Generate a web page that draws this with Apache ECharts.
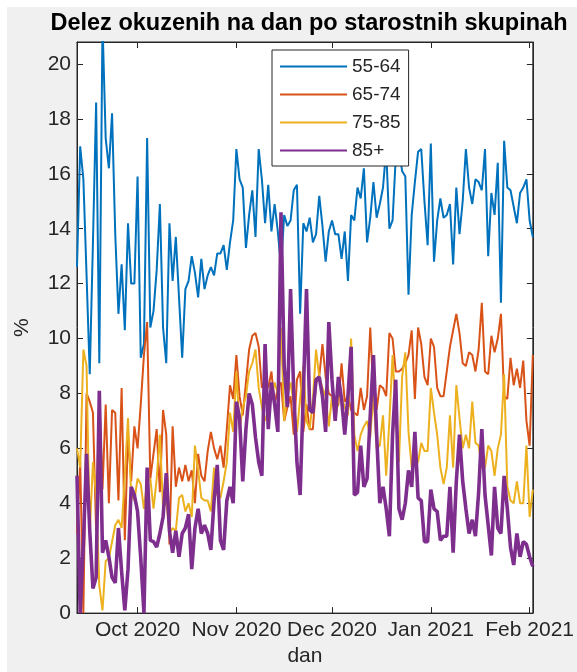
<!DOCTYPE html>
<html>
<head>
<meta charset="utf-8">
<script src="https://cdn.jsdelivr.net/npm/echarts@6/dist/echarts.min.js"></script>
<style>
html,body{margin:0;padding:0;background:#fff;}
#chart{width:577px;height:672px;}
</style>
</head>
<body>
<div id="chart"></div>
<script>
// ---- data ----
const chartTitle = 'Delez okuzenih na dan po starostnih skupinah';
const seriesNames = ['55-64', '65-74', '75-85', '85+'];
const firstDay = [2020, 8, 12]; // 12 Sep 2020, one value per day

const s5564 = [
  12.6, 17.0, 15.8, 12.3, 8.7, 13.5, 18.6, 9.1, 21.5, 17.3,
  16.2, 18.2, 13.8, 10.9, 12.7, 10.3, 14.2, 12.0, 12.0, 15.9,
  9.3, 9.8, 17.3, 10.4, 11.0, 12.5, 14.9, 10.4, 9.1, 14.2,
  12.1, 13.7, 11.5, 9.3, 11.8, 12.1, 13.0, 12.4, 11.5, 12.9,
  11.8, 12.3, 12.6, 12.3, 13.1, 13.1, 13.4, 12.5, 13.5, 14.3,
  16.9, 15.8, 15.5, 13.3, 14.5, 15.4, 13.7, 16.9, 15.8, 14.2,
  15.6, 13.9, 14.9, 13.9, 12.6, 14.5, 14.1, 14.3, 15.4, 15.6,
  10.9, 14.2, 13.9, 14.4, 13.5, 13.8, 15.2, 14.1, 12.8, 13.9,
  14.3, 13.8, 13.8, 12.9, 13.9, 12.1, 14.5, 14.3, 15.5, 15.1,
  16.2, 13.5, 14.4, 15.7, 14.4, 14.9, 15.5, 16.9, 14.0, 14.3,
  16.6, 16.9, 16.1, 15.9, 11.6, 14.5, 15.7, 16.8, 16.9, 15.0,
  13.4, 17.1, 12.8, 14.3, 15.1, 14.4, 14.5, 14.9, 12.7, 15.5,
  13.8, 15.0, 16.9, 15.5, 14.9, 15.8, 15.7, 15.4, 16.9, 13.0,
  15.3, 14.5, 16.4, 11.3, 17.2, 15.5, 15.4, 14.8, 14.2, 15.3,
  15.5, 15.8, 14.3, 13.7
];
const s6574 = [
  2.9, 5.5, 0.0, 8.0, 7.7, 7.3, 3.0, 7.9, 4.5, 7.6,
  4.0, 7.4, 7.3, 4.1, 8.2, 2.65, 6.5, 4.8, 6.8, 6.0,
  7.6, 9.4, 10.6, 4.9, 5.8, 6.7, 4.4, 7.4, 6.5, 2.5,
  6.8, 4.6, 5.3, 4.8, 5.4, 4.8, 5.2, 4.0, 5.8, 5.0,
  4.8, 5.9, 6.6, 6.0, 5.6, 6.1, 5.3, 6.7, 8.3, 7.8,
  9.4, 7.9, 7.2, 8.4, 9.6, 10.1, 10.2, 9.7, 8.2, 8.5,
  8.2, 8.8, 7.6, 8.2, 8.4, 7.0, 7.5, 7.9, 6.5, 8.5,
  8.8, 6.6, 7.6, 6.7, 6.7, 8.4, 8.6, 9.8, 8.6, 8.0,
  7.9, 7.4, 7.6, 9.1, 7.7, 7.9, 7.4, 7.3, 7.2, 8.2,
  7.4, 7.9, 10.4, 7.9, 7.4, 8.3, 8.2, 7.9, 10.2, 10.0,
  8.8, 8.8, 8.9, 9.1, 9.4, 10.3, 7.8, 10.4, 9.8, 8.6,
  8.3, 10.0, 9.7, 8.2, 7.9, 7.9, 8.8, 9.7, 10.3, 10.9,
  10.2, 9.1, 9.0, 9.5, 9.4, 8.8, 9.6, 11.3, 8.8, 8.7,
  10.1, 9.5, 10.0, 10.9, 7.9, 7.8, 9.3, 8.3, 8.9, 8.2,
  9.2, 7.0, 6.1, 9.4
];
const s7585 = [
  6.0, 5.3, 9.6, 9.0, 2.9, 5.5, 4.3, 1.0, 0.1, 1.9,
  2.0, 2.6, 3.2, 3.4, 3.1, 5.0, 7.1, 4.3, 4.1, 4.9,
  4.7, 3.8, 4.8, 4.9, 3.8, 4.9, 6.5, 3.8, 4.1, 2.9,
  3.1, 3.0, 4.2, 4.3, 3.7, 4.0, 3.5, 6.1, 5.2, 4.2,
  4.1, 4.1, 3.7, 5.3, 4.3, 4.2, 4.8, 5.5, 7.3, 6.6,
  8.8, 6.7, 7.5, 7.9, 8.8, 9.1, 9.6, 8.2, 7.5, 7.0,
  7.4, 7.9, 8.4, 8.0, 10.4, 7.0, 7.9, 8.4, 7.6, 6.6,
  7.8, 9.0, 7.0, 6.7, 7.8, 9.6, 8.6, 8.2, 7.9, 6.8,
  7.9, 7.0, 7.8, 7.9, 7.5, 7.2, 10.0, 6.5, 5.9, 6.5,
  6.8, 7.0, 6.4, 8.0, 6.0, 6.1, 7.2, 5.0, 7.0, 9.4,
  7.2, 5.5, 8.6, 9.5, 6.6, 5.3, 5.4, 5.5, 6.2, 5.9,
  5.9, 8.2, 7.3, 6.5, 5.3, 4.7, 5.3, 7.2, 5.3, 8.3,
  7.1, 6.0, 6.5, 6.0, 7.7, 6.2, 6.1, 5.3, 5.3, 6.1,
  5.9, 5.0, 6.0, 6.5, 8.7, 4.6, 4.1, 4.0, 4.8, 4.0,
  4.0, 6.1, 3.5, 4.5
];
const s85plus = [
  5.0, 0.0, 2.5, 5.8, 3.0, 0.9, 1.3, 8.1, 2.2, 2.65,
  2.05, 1.3, 1.1, 3.1, 1.5, 0.1, 1.6, 4.6, 4.3, 3.7,
  2.0, 0.0, 5.3, 2.65, 2.6, 2.4, 2.9, 3.5, 5.1, 3.0,
  2.2, 3.0, 2.05, 2.9, 3.1, 3.6, 1.6, 3.1, 3.8, 2.9,
  3.2, 2.9, 2.3, 4.1, 5.4, 2.65, 2.3, 4.1, 4.6, 4.0,
  7.7, 7.1, 4.8, 6.7, 8.0, 7.6, 6.4, 5.5, 5.0, 9.8,
  6.7, 8.4, 7.6, 6.6, 14.6, 9.0, 7.5, 11.8, 8.0, 5.5,
  4.3, 8.0, 11.8, 7.4, 7.3, 8.5, 8.6, 7.9, 6.6, 10.6,
  8.5, 7.0, 8.6, 7.8, 6.5, 7.9, 9.7, 4.3, 4.4, 6.1,
  4.6, 4.9, 7.2, 9.4, 6.5, 4.0, 4.6, 3.8, 2.8, 6.5,
  8.5, 3.8, 3.4, 4.0, 5.2, 4.6, 6.6, 4.2, 4.1, 2.6,
  2.6, 4.5, 3.8, 3.7, 2.65, 2.8, 2.8, 4.6, 2.2, 4.8,
  6.5, 4.8, 3.8, 2.9, 3.4, 2.8, 4.4, 6.7, 4.3, 3.2,
  2.1, 4.6, 3.1, 2.9, 5.0, 3.8, 2.4, 1.75, 2.9, 2.05,
  2.6, 2.5, 2.05, 1.7
];

const xTickDates = [[2020, 9, 1], [2020, 10, 1], [2020, 11, 1], [2021, 0, 1], [2021, 1, 1]];
const xTickLabels = ['Oct 2020', 'Nov 2020', 'Dec 2020', 'Jan 2021', 'Feb 2021'];
const yTicks = [0, 2, 4, 6, 8, 10, 12, 14, 16, 18, 20];
const yMax = 20.8;

// ---- build ----
const seriesValues = [s5564, s6574, s7585, s85plus];
const seriesColors = ['#0072BD', '#D95319', '#EDB120', '#7E2F8E'];
const seriesWidths = [2, 2, 2, 3.6];

const DAY = 86400000;
const t0 = Date.UTC(firstDay[0], firstDay[1], firstDay[2]);
// x position = days since first day
const dayIndex = s5564.map((_, i) => i);
const xTickPos = xTickDates.map(d => Math.round((Date.UTC(d[0], d[1], d[2]) - t0) / DAY));
const xMin = 0;
const xMax = dayIndex[dayIndex.length - 1];

const font = '"Liberation Sans", Arial, Helvetica, sans-serif';
const axisColor = '#262626';

function xLabel(v) {
  const i = xTickPos.indexOf(Math.round(v));
  return i >= 0 ? xTickLabels[i] : '';
}

const chart = echarts.init(document.getElementById('chart'), null, {renderer: 'canvas'});

const baseX = {
  type: 'value', min: xMin, max: xMax,
  axisLine: {show: true, onZero: false, lineStyle: {color: axisColor, width: 1}},
  axisTick: {show: true, inside: true, length: 6, customValues: xTickPos, lineStyle: {color: axisColor}},
  splitLine: {show: false}
};
const baseY = {
  type: 'value', min: 0, max: yMax,
  axisLine: {show: true, onZero: false, lineStyle: {color: axisColor, width: 1}},
  axisTick: {show: true, inside: true, length: 6, customValues: yTicks, lineStyle: {color: axisColor}},
  splitLine: {show: false}
};

const option = {
  animation: false,
  backgroundColor: '#f0f0f0',
  graphic: [
    {type: 'rect', left: 0, top: 0, shape: {width: 7, height: 672}, style: {fill: '#ffffff'}, silent: true, z: -10},
    {type: 'rect', left: 0, top: 0, shape: {width: 577, height: 7}, style: {fill: '#ffffff'}, silent: true, z: -10}
  ],
  title: {
    text: chartTitle, left: 309, top: 12, textAlign: 'center', padding: 0,
    textStyle: {fontFamily: font, fontSize: 23.5, fontWeight: 'bold', color: '#000'}
  },
  grid: {
    left: 77, right: 38, top: 42, bottom: 52,
    show: true, backgroundColor: '#ffffff', borderColor: axisColor, borderWidth: 1
  },
  legend: {
    orient: 'vertical', left: 272, top: 50, padding: [7, 8, 6, 7],
    itemWidth: 67, itemHeight: 14, itemGap: 9,
    backgroundColor: '#ffffff', borderColor: axisColor, borderWidth: 1,
    itemStyle: {opacity: 0, borderWidth: 0},
    textStyle: {fontFamily: font, fontSize: 19, color: axisColor, lineHeight: 14},
    data: seriesNames
  },
  xAxis: [
    Object.assign({}, baseX, {
      position: 'bottom',
      axisLabel: {customValues: xTickPos, formatter: xLabel, color: axisColor, fontFamily: font, fontSize: 21, margin: 7},
      name: 'dan', nameLocation: 'middle', nameGap: 32,
      nameTextStyle: {fontFamily: font, fontSize: 21, color: axisColor}
    }),
    Object.assign({}, baseX, {position: 'top', axisLabel: {show: false}})
  ],
  yAxis: [
    Object.assign({}, baseY, {
      position: 'left',
      axisLabel: {customValues: yTicks, color: axisColor, fontFamily: font, fontSize: 21, margin: 6},
      name: '%', nameLocation: 'middle', nameGap: 44, nameRotate: 90,
      nameTextStyle: {fontFamily: font, fontSize: 21, color: axisColor}
    }),
    Object.assign({}, baseY, {position: 'right', axisLabel: {show: false}})
  ],
  series: seriesNames.map((name, k) => ({
    name: name, type: 'line', xAxisIndex: 0, yAxisIndex: 0,
    data: seriesValues[k].map((v, i) => [dayIndex[i], v]),
    symbol: 'none', showSymbol: false, clip: true,
    lineStyle: {color: seriesColors[k], width: seriesWidths[k]},
    itemStyle: {color: seriesColors[k]},
    emphasis: {disabled: true}
  }))
};
chart.setOption(option);
</script>
</body>
</html>
